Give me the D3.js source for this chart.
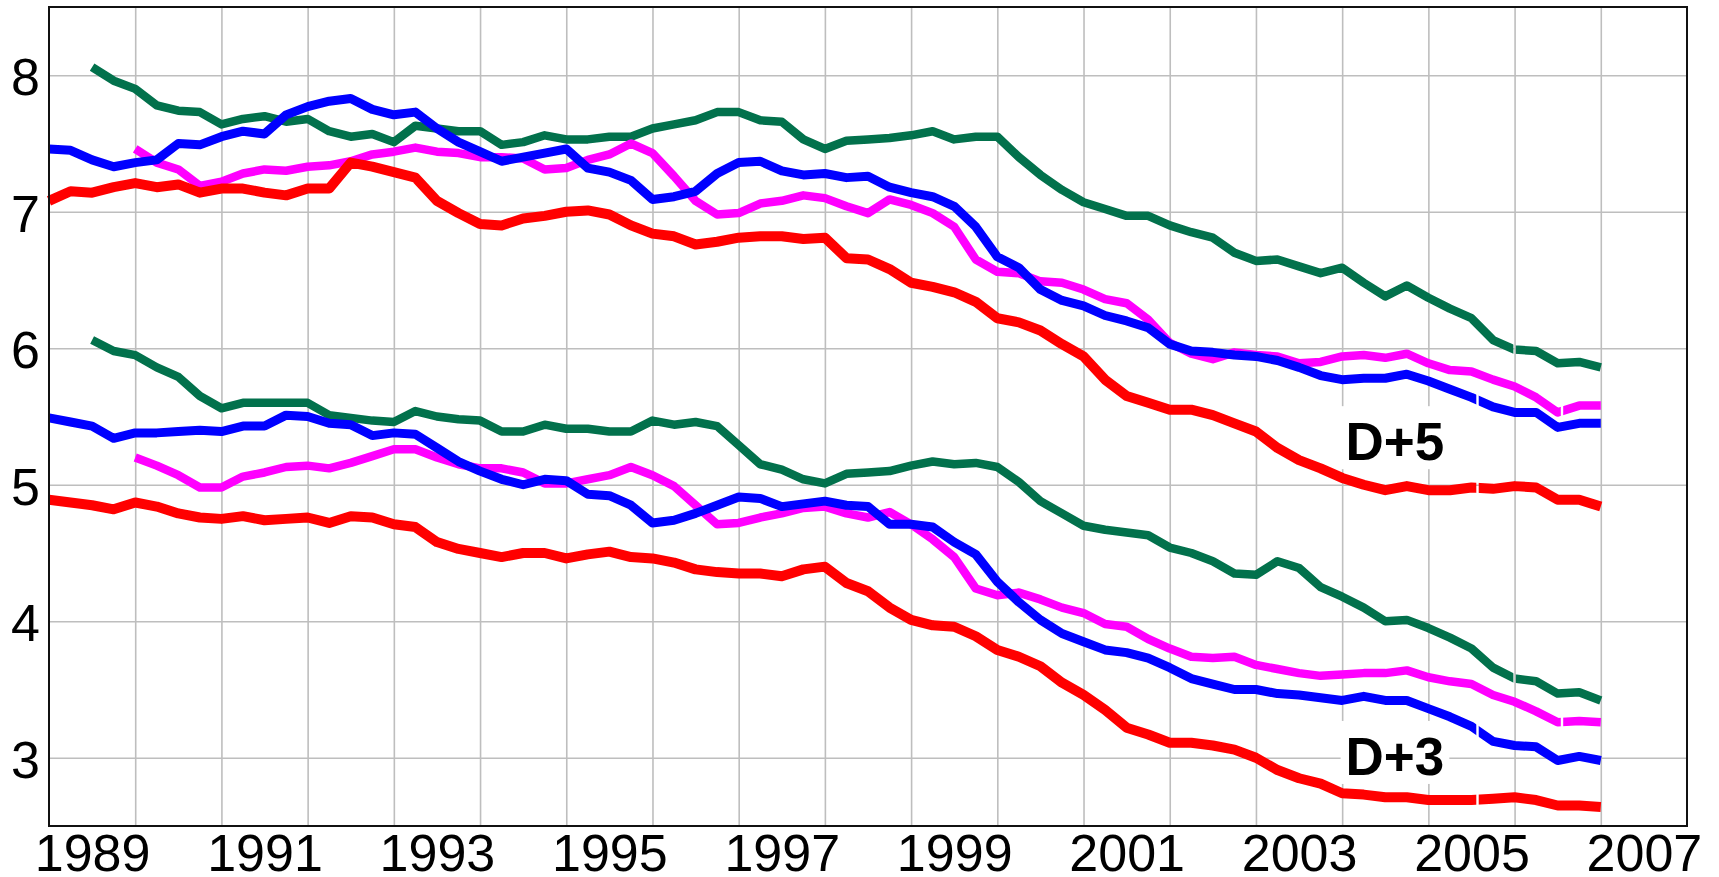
<!DOCTYPE html>
<html><head><meta charset="utf-8">
<script src="https://cdn.jsdelivr.net/npm/d3@7"></script>
<style>body{margin:0;background:#fff}svg{display:block}</style>
</head><body><svg id="chart" width="1719" height="877"></svg>
<script>
// Quarterly time grid, 1989.00 ... 2007.00 (73 points)
const quarters = d3.range(0, 73).map(i => 1989 + i / 4);

// ---- D+5 group ----
const red5 = [7.08,7.15,7.14,7.18,7.21,7.18,7.20,7.14,7.17,7.17,7.14,7.12,7.17,7.17,7.36,7.33,7.29,7.25,7.08,6.99,6.91,6.90,6.95,6.97,7.00,7.01,
  6.98,6.90,6.84,6.82,6.76,6.78,6.81,6.82,6.82,6.80,6.81,6.66,6.65,6.58,6.48,6.45,6.41,6.34,6.22,6.19,6.13,6.03,5.94,5.77,5.65,5.60,
  5.55,5.55,5.51,5.45,5.39,5.27,5.18,5.12,5.05,5.00,4.96,4.99,4.96,4.96,4.98,4.97,4.99,4.98,4.89,4.89,4.84];
const blue5 = [7.46,7.45,7.38,7.33,7.36,7.38,7.50,7.49,7.55,7.59,7.57,7.71,7.77,7.81,7.83,7.75,7.71,7.73,7.61,7.51,7.44,7.37,7.40,7.43,7.46,7.32,
  7.29,7.23,7.09,7.11,7.15,7.28,7.36,7.37,7.30,7.27,7.28,7.25,7.26,7.18,7.14,7.11,7.04,6.89,6.67,6.59,6.43,6.35,6.31,6.24,6.20,6.15,
  6.03,5.98,5.97,5.95,5.94,5.91,5.86,5.80,5.77,5.78,5.78,5.81,5.76,5.70,5.64,5.57,5.53,5.53,5.42,5.45,5.45];
const magenta5 = [null,null,null,null,7.46,7.36,7.31,7.19,7.22,7.28,7.31,7.30,7.33,7.34,7.37,7.42,7.44,7.47,7.44,7.43,7.40,7.40,7.39,7.31,7.32,7.38,
  7.42,7.50,7.43,7.26,7.08,6.98,6.99,7.06,7.08,7.12,7.10,7.04,6.99,7.09,7.05,6.99,6.89,6.65,6.56,6.55,6.49,6.48,6.43,6.36,6.33,6.21,
  6.04,5.96,5.92,5.97,5.95,5.94,5.89,5.90,5.94,5.95,5.93,5.96,5.89,5.84,5.83,5.77,5.72,5.64,5.53,5.58,5.58];
const green5 = [null,null,8.06,7.96,7.90,7.78,7.74,7.73,7.64,7.68,7.70,7.66,7.68,7.59,7.55,7.57,7.51,7.63,7.61,7.59,7.59,7.49,7.51,7.56,7.53,7.53,
  7.55,7.55,7.61,7.64,7.67,7.73,7.73,7.67,7.66,7.53,7.46,7.52,7.53,7.54,7.56,7.59,7.53,7.55,7.55,7.40,7.27,7.16,7.07,7.02,6.97,6.97,
  6.90,6.85,6.81,6.70,6.64,6.65,6.60,6.55,6.59,6.48,6.38,6.46,6.37,6.29,6.22,6.06,5.99,5.98,5.89,5.90,5.86];

// ---- D+3 group ----
const red3 = [4.89,4.87,4.85,4.82,4.87,4.84,4.79,4.76,4.75,4.77,4.74,4.75,4.76,4.72,4.77,4.76,4.71,4.69,4.58,4.53,4.50,4.47,4.50,4.50,4.46,4.49,
  4.51,4.47,4.46,4.43,4.38,4.36,4.35,4.35,4.33,4.38,4.40,4.28,4.22,4.10,4.01,3.97,3.96,3.89,3.79,3.74,3.67,3.55,3.46,3.35,3.22,3.17,
  3.11,3.11,3.09,3.06,3.00,2.91,2.85,2.81,2.74,2.73,2.71,2.71,2.69,2.69,2.69,2.70,2.71,2.69,2.65,2.65,2.64];
const blue3 = [5.49,5.46,5.43,5.34,5.38,5.38,5.39,5.40,5.39,5.43,5.43,5.51,5.50,5.45,5.44,5.36,5.38,5.37,5.27,5.17,5.10,5.04,5.00,5.04,5.03,4.93,
  4.92,4.85,4.72,4.74,4.79,4.85,4.91,4.90,4.84,4.86,4.88,4.85,4.84,4.71,4.71,4.69,4.58,4.49,4.29,4.14,4.01,3.91,3.85,3.79,3.77,3.73,
  3.66,3.58,3.54,3.50,3.50,3.47,3.46,3.44,3.42,3.45,3.42,3.42,3.36,3.30,3.23,3.12,3.09,3.08,2.98,3.01,2.98];
const magenta3 = [null,null,null,null,5.20,5.14,5.07,4.98,4.98,5.06,5.09,5.13,5.14,5.12,5.16,5.21,5.26,5.26,5.20,5.15,5.12,5.12,5.09,5.01,5.01,5.04,
  5.07,5.13,5.07,4.99,4.85,4.71,4.72,4.76,4.79,4.83,4.84,4.79,4.76,4.80,4.71,4.60,4.47,4.24,4.19,4.21,4.16,4.10,4.06,3.98,3.96,3.87,
  3.80,3.74,3.73,3.74,3.68,3.65,3.62,3.60,3.61,3.62,3.62,3.64,3.59,3.56,3.54,3.46,3.41,3.34,3.26,3.27,3.26];
const green3 = [null,null,6.06,5.98,5.95,5.86,5.79,5.65,5.56,5.60,5.60,5.60,5.60,5.51,5.49,5.47,5.46,5.54,5.50,5.48,5.47,5.39,5.39,5.44,5.41,5.41,
  5.39,5.39,5.47,5.44,5.46,5.43,5.29,5.15,5.11,5.04,5.01,5.08,5.09,5.10,5.14,5.17,5.15,5.16,5.13,5.02,4.88,4.79,4.70,4.67,4.65,4.63,
  4.54,4.50,4.44,4.35,4.34,4.44,4.39,4.25,4.18,4.10,4.00,4.01,3.95,3.88,3.80,3.66,3.58,3.56,3.47,3.48,3.42];

// Axis ticks / labels
const yTicks = [3, 4, 5, 6, 7, 8];
const gridYears = d3.range(1990, 2008);
const xLabelYears = [1989, 1991, 1993, 1995, 1997, 1999, 2001, 2003, 2005, 2007];
const groupLabels = ["D+5", "D+3"];

// Styles
const colors = { green: "#02714c", magenta: "#ff00ff", blue: "#0000ff", red: "#ff0000" };
const widths = { green: 8.5, magenta: 8.5, blue: 9, red: 10 };
const gapYear = { green: 2006.0, magenta: 2006.55, blue: 2005.57, red: 2005.57 };

const series = [
  { key: "green", data: green5 }, { key: "green", data: green3 },
  { key: "magenta", data: magenta5 }, { key: "magenta", data: magenta3 },
  { key: "blue", data: blue5 }, { key: "blue", data: blue3 },
  { key: "red", data: red5 }, { key: "red", data: red3 }
];

const W = 1719, H = 877;
const L = 49, R = 1687, T = 7, B = 826;
const font = "'Liberation Sans', Arial, sans-serif";

const svg = d3.select("#chart");
svg.append("rect").attr("width", W).attr("height", H).attr("fill", "#fff");

const x = d3.scaleLinear().domain([1989, 2008]).range([L, R]);
const y = d3.scaleLinear().domain([2.5, 8.5]).range([B, T]);

// Grid
const gx = svg.append("g").attr("transform", `translate(0,${B})`)
  .call(d3.axisBottom(x).tickValues(gridYears).tickSize(-(B - T)).tickFormat(""));
const gy = svg.append("g").attr("transform", `translate(${L},0)`)
  .call(d3.axisLeft(y).tickValues(yTicks).tickSize(-(R - L)).tickFormat(""));
[gx, gy].forEach(g => {
  g.select(".domain").remove();
  g.selectAll("line").attr("stroke", "#bebebe").attr("stroke-width", 1.6);
});

// Group labels with white background (over grid, under lines)
const labelPos = [[2004.04, 5.18], [2004.04, 2.874]];
groupLabels.forEach((t, i) => {
  const g = svg.append("g");
  const txt = g.append("text").attr("x", x(labelPos[i][0])).attr("y", y(labelPos[i][1]))
    .attr("font-family", font).attr("font-weight", "bold").attr("font-size", 53)
    .attr("fill", "#000").text(t);
  const bb = txt.node().getBBox();
  g.insert("rect", "text").attr("x", bb.x - 5).attr("y", bb.y - 6).attr("width", bb.width + 10)
    .attr("height", bb.height + 4).attr("fill", "#fff");
});

// Lines
const line = d3.line().defined(d => d[1] != null).x(d => x(d[0])).y(d => y(d[1]));
const defs = svg.append("defs");
series.forEach((s, i) => {
  const gp = x(gapYear[s.key]);
  const cp = defs.append("clipPath").attr("id", "clip" + i);
  cp.append("rect").attr("x", 0).attr("y", 0).attr("width", gp - 1.2).attr("height", H);
  cp.append("rect").attr("x", gp + 1.2).attr("y", 0).attr("width", W).attr("height", H);
  svg.append("path")
    .datum(quarters.map((q, j) => [q, s.data[j]]))
    .attr("d", line)
    .attr("fill", "none")
    .attr("stroke", colors[s.key])
    .attr("stroke-width", widths[s.key])
    .attr("stroke-linejoin", "round")
    .attr("stroke-linecap", "butt")
    .attr("clip-path", `url(#clip${i})`);
});

// Frame
svg.append("rect").attr("x", L).attr("y", T).attr("width", R - L).attr("height", B - T)
  .attr("fill", "none").attr("stroke", "#111").attr("stroke-width", 2);

// Axis labels
const ya = svg.append("g").attr("transform", `translate(${L},0)`)
  .call(d3.axisLeft(y).tickValues(yTicks).tickSize(0).tickPadding(9).tickFormat(d3.format("d")));
ya.select(".domain").remove();
ya.selectAll("text").attr("font-family", font).attr("font-size", 52).attr("fill", "#000").attr("dy", "0.37em");

const xa = svg.append("g").attr("transform", `translate(0,${B})`)
  .call(d3.axisBottom(x).tickValues(xLabelYears.map(v => v + 0.5)).tickSize(0).tickPadding(8)
    .tickFormat(d => String(Math.floor(d))));
xa.select(".domain").remove();
xa.selectAll("text").attr("font-family", font).attr("font-size", 52).attr("fill", "#000");
</script></body></html>
